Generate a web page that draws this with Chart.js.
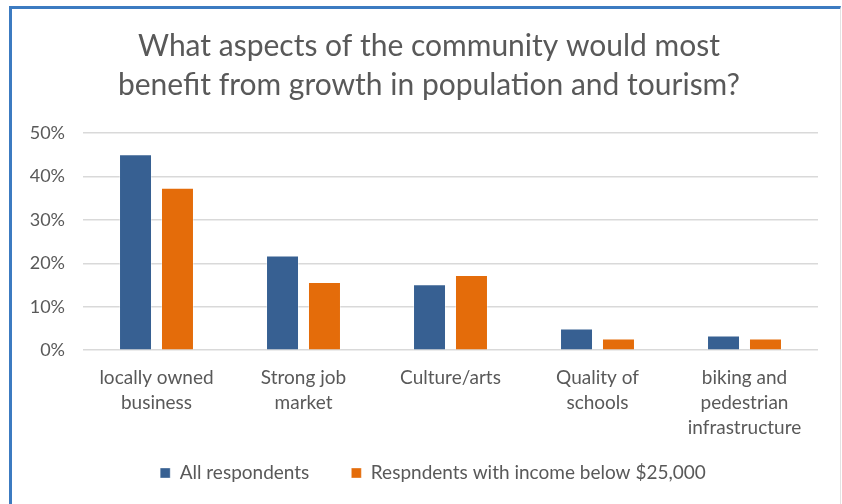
<!DOCTYPE html>
<html>
<head>
<meta charset="utf-8">
<script src="https://cdn.jsdelivr.net/npm/chart.js@4"></script>
<style>
  html, body { margin: 0; padding: 0; background: #ffffff; }
  #frame {
    position: absolute; left: 9px; top: 6px; width: 832px; height: 498px;
    border-top: 3px solid #3c7bc1; border-left: 3px solid #3c7bc1;
    border-right: 1px solid #e3e3e3; box-sizing: border-box;
  }
  #wrap { position: absolute; left: 0; top: 0; width: 842px; height: 504px; }
</style>
</head>
<body>
<div id="frame"></div>
<div id="wrap"><canvas id="chart"></canvas></div>
<script>
// data
const categories = [
  ["locally owned", "business"],
  ["Strong job", "market"],
  ["Culture/arts"],
  ["Quality of", "schools"],
  ["biking and", "pedestrian", "infrastructure"]
];
const allRespondents = [45.1, 21.8, 15.2, 5.0, 3.4];
const lowIncome = [37.4, 15.7, 17.3, 2.7, 2.7];
const seriesNames = ["All respondents", "Respndents with income below $25,000"];
const titleLines = [
  "What aspects of the community would most",
  "benefit from growth in population and tourism?"
];

const textColor = "#595959";
const fontFamily = "Lato, 'Noto Sans', sans-serif";

// title and legend sit a bit right of the plot centre in the original,
// and the legend tucks up closer to the axis labels
const nudgeBoxes = {
  id: "nudgeBoxes",
  afterLayout(chart) {
    chart.titleBlock.left += 20;
    chart.titleBlock.right += 20;
    chart.legend.left += 24;
    chart.legend.right += 24;
    chart.legend.top -= 34.5;
    chart.legend.bottom -= 34.5;
  }
};

document.addEventListener("DOMContentLoaded", () => {
  new Chart(document.getElementById("chart"), {
    type: "bar",
    data: {
      labels: categories,
      datasets: [
        {
          label: seriesNames[0],
          data: allRespondents,
          backgroundColor: "#376092",
          borderColor: "rgba(255,255,255,0.35)",
          borderWidth: 1
        },
        {
          label: seriesNames[1],
          data: lowIncome,
          backgroundColor: "#e46c0a",
          borderColor: "rgba(255,255,255,0.35)",
          borderWidth: 1
        }
      ]
    },
    plugins: [nudgeBoxes],
    options: {
      responsive: true,
      maintainAspectRatio: false,
      animation: false,
      layout: { padding: { top: 0, bottom: -23, left: 0, right: 24 } },
      datasets: {
        bar: { categoryPercentage: 0.571, barPercentage: 0.786 }
      },
      plugins: {
        title: {
          display: true,
          text: titleLines,
          color: textColor,
          font: { family: fontFamily, size: 30, weight: "normal", lineHeight: 1.3 },
          padding: { top: 27, bottom: 28 }
        },
        legend: {
          position: "bottom",
          labels: {
            color: textColor,
            font: { family: fontFamily, size: 19 },
            boxWidth: 10,
            boxHeight: 10,
            padding: 42
          }
        },
        tooltip: { enabled: false }
      },
      scales: {
        x: {
          grid: { display: false, drawTicks: false },
          border: { display: false },
          ticks: {
            color: textColor,
            font: { family: fontFamily, size: 19, lineHeight: 1.33 },
            padding: 15,
            maxRotation: 0,
            autoSkip: false
          }
        },
        y: {
          min: 0,
          max: 50,
          afterFit: (scale) => { scale.width = 83; },
          grid: { color: "#d9d9d9", lineWidth: 1.5, drawTicks: false },
          border: { display: false },
          ticks: {
            stepSize: 10,
            color: textColor,
            font: { family: fontFamily, size: 18 },
            padding: 18,
            callback: (v) => v + "%"
          }
        }
      }
    }
  });
});
</script>
</body>
</html>
